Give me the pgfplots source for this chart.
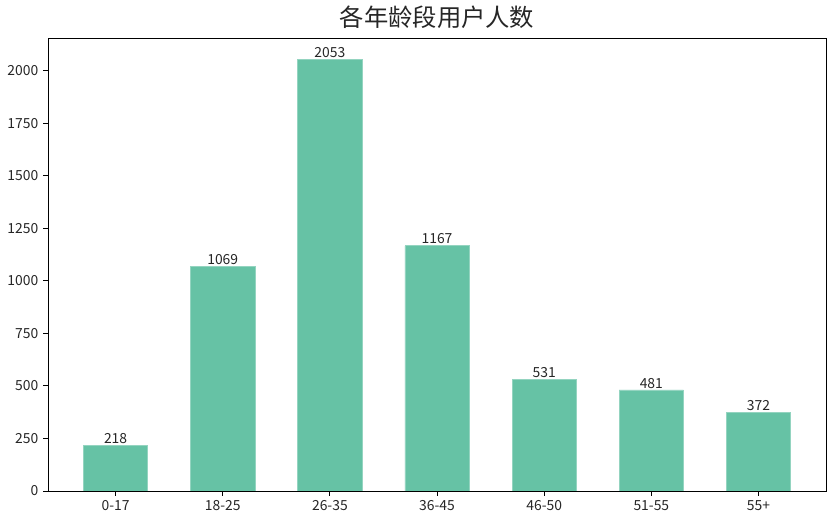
\documentclass[border=0pt]{standalone}
\usepackage{fontspec}
\setmainfont{Noto Sans CJK SC}
\usepackage{pgfplots}
\pgfplotsset{compat=1.18}
\definecolor{barc}{HTML}{66C2A5}
\definecolor{txt}{HTML}{262626}

\begin{document}
\begin{tikzpicture}
\begin{axis}[
    scale only axis,
    width=560pt, height=326pt,
    ybar, bar width=0.6,
    bar shift=0pt,
    xmin=-0.63, xmax=6.63,
    ymin=0, ymax=2155.65,
    xtick=data,
    xticklabels={0-17,18-25,26-35,36-45,46-50,51-55,55+},
    ytick={0,250,500,750,1000,1250,1500,1750,2000},
    tick align=outside,
    tick pos=left,
    major tick length=3.5pt,
    tick style={black, line width=0.6pt},
    axis line style={black, line width=0.6pt},
    ticklabel style={font=\fontsize{10}{12}\selectfont, text=txt},
    /pgf/number format/assume math mode=true,
    scaled y ticks=false,
    yticklabel style={/pgf/number format/1000 sep={}},
    title={各年龄段用户人数},
    title style={font=\fontsize{17.5}{20}\selectfont, text=txt, yshift=-3pt},
    nodes near coords,
    nodes near coords style={font=\fontsize{10}{12}\selectfont, text=txt, inner sep=1pt, /pgf/number format/1000 sep={}},
]
\addplot[fill=barc, draw=barc!70!white, line width=0.4pt] coordinates {
    (0,218) (1,1069) (2,2053) (3,1167) (4,531) (5,481) (6,372)
};
\end{axis}
\pgfresetboundingbox
\path (-34.6pt,-23pt) rectangle (567.2pt,353.4pt);
\end{tikzpicture}
\end{document}
